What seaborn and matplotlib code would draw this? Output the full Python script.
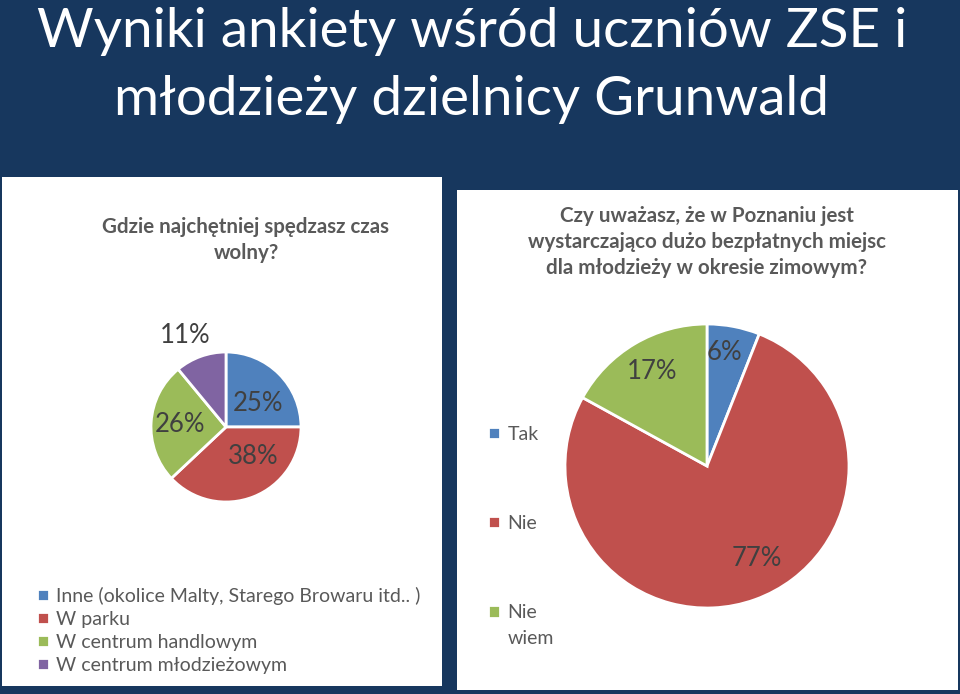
import matplotlib
matplotlib.use("Agg")
import matplotlib.pyplot as plt
import seaborn as sns
import numpy as np
from matplotlib.patches import Rectangle

sns.set_theme(style="white")
plt.rcParams['font.family'] = ['Lato', 'DejaVu Sans']

# ---- data ----
title_lines = ["Wyniki ankiety wśród uczniów ZSE i", "młodzieży dzielnicy Grunwald"]
q1_title = "Gdzie najchętniej spędzasz czas\nwolny?"
q1_categories = ["Inne (okolice Malty, Starego Browaru itd.. )", "W parku",
                 "W centrum handlowym", "W centrum młodzieżowym"]
q1_values = [25, 38, 26, 11]
q2_title = "Czy uważasz, że w Poznaniu jest\nwystarczająco dużo bezpłatnych miejsc\ndla młodzieży w okresie zimowym?"
q2_categories = ["Tak", "Nie", "Nie\nwiem"]
q2_values = [6, 77, 17]

# ---- style ----
W, H = 960, 694
BG = "#17375E"
colors = sns.color_palette(["#4F81BD", "#C0504D", "#9BBB59", "#8064A2"])
TXT = "#595959"
LBL = "#404040"
# label placement (radial distance, angle in degrees) per wedge
q1_lbl = [(0.53, 37), (0.53, -47), (0.61, 177), (1.33, 114)]
q2_lbl = [(0.81, 81.5), (0.74, -61.7), (0.77, 120)]

fig = plt.figure(figsize=(W / 100, H / 100), dpi=100)
fig.patch.set_facecolor(BG)

def fx(px): return px / W
def fy(py): return 1 - py / H

# panels
fig.patches.append(Rectangle((fx(2), fy(686)), fx(440), (686 - 177) / H,
                             transform=fig.transFigure, facecolor="white", edgecolor="none", zorder=-5))
fig.patches.append(Rectangle((fx(457), fy(690)), fx(501), (690 - 190) / H,
                             transform=fig.transFigure, facecolor="white", edgecolor="none", zorder=-5))

# main title
fig.text(fx(472), fy(32), title_lines[0], color="white", fontsize=39.4, ha="center", va="center")
fig.text(fx(472), fy(100), title_lines[1], color="white", fontsize=39.4, ha="center", va="center")

# panel titles
fig.text(fx(246), fy(240), q1_title, color=TXT, fontsize=14.8, fontweight="bold",
         ha="center", va="center", linespacing=1.35)
fig.text(fx(707), fy(242), q2_title, color=TXT, fontsize=14.8, fontweight="bold",
         ha="center", va="center", linespacing=1.35)


def draw_pie(cx, cy, r, values, cols, lbl):
    ax = fig.add_axes([fx(cx - r), fy(cy + r), 2 * r / W, 2 * r / H])
    ax.patch.set_alpha(0)
    wedges, _ = ax.pie(values, colors=cols, startangle=90, counterclock=False,
                       wedgeprops=dict(edgecolor="white", linewidth=2), radius=1)
    ax.set_xlim(-1, 1); ax.set_ylim(-1, 1)
    ax.set_aspect("auto")
    ax.axis("off")
    for v, (d, a) in zip(values, lbl):
        ax.text(d * np.cos(np.radians(a)), d * np.sin(np.radians(a)), f"{v}%",
                ha="center", va="center", fontsize=18.5, color=LBL, clip_on=False)
    return wedges

w1 = draw_pie(226, 427, 75, q1_values, colors[:4], q1_lbl)
w2 = draw_pie(707, 466, 142, q2_values, colors[:3], q2_lbl)

leg1 = fig.legend(w1, q1_categories, loc="upper left", bbox_to_anchor=(fx(37), fy(587)),
                  frameon=False, fontsize=14, labelcolor=TXT, handlelength=0.6, handleheight=0.6,
                  handletextpad=0.4, labelspacing=0.3, borderpad=0, borderaxespad=0)
leg2 = fig.legend(w2, q2_categories, loc="upper left", bbox_to_anchor=(fx(488), fy(426)),
                  frameon=False, fontsize=14, labelcolor=TXT, handlelength=0.6, handleheight=0.6,
                  handletextpad=0.4, labelspacing=3.69, borderpad=0, borderaxespad=0)
for t in leg2.get_texts():
    t.set_linespacing(1.7)
h = leg2.legend_handles[2]
h.set_y(h.get_y() + 10)

fig.savefig("out.png", dpi=100, facecolor=BG)
